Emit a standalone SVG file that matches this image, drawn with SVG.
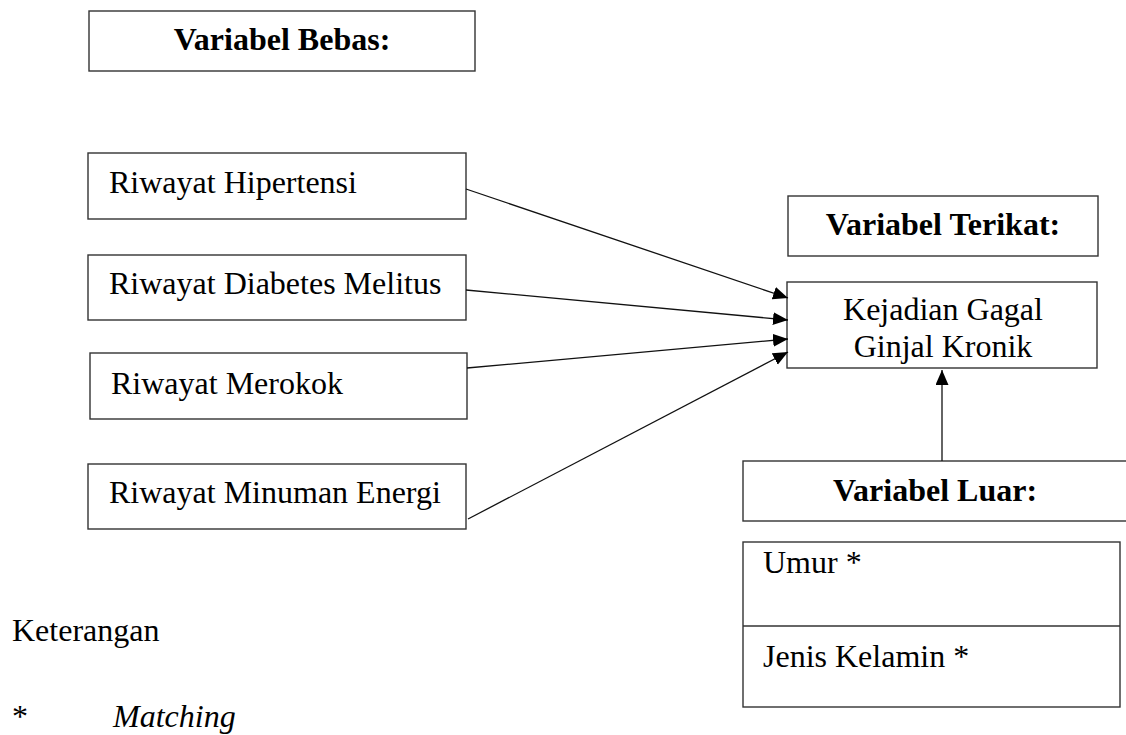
<svg xmlns="http://www.w3.org/2000/svg" width="1126" height="735" viewBox="0 0 1126 735">
<defs>
<style>
.box{fill:#fff;stroke:#333;stroke-width:1.4}
.t{font-family:"Liberation Serif","Times New Roman",serif;font-size:32px;fill:#000}
.b{font-weight:bold}
.c{text-anchor:middle}
.i{font-style:italic}
.edge{stroke:#111;stroke-width:1.3;fill:none}
</style>
<marker id="arr" markerUnits="userSpaceOnUse" markerWidth="16" markerHeight="14" refX="15" refY="6.5" orient="auto">
<path d="M0,0 L15,6.5 L0,13 Z" fill="#000"/>
</marker>
<clipPath id="kclip"><rect x="787" y="282" width="310" height="86"/></clipPath>
</defs>

<g id="bebas">
<rect class="box" x="89" y="11" width="386" height="60"/>
<text class="t b c" x="282" y="50">Variabel Bebas:</text>
</g>

<g id="hipertensi">
<rect class="box" x="88" y="153" width="378" height="66"/>
<text class="t" x="109" y="193">Riwayat Hipertensi</text>
</g>

<g id="diabetes">
<rect class="box" x="88" y="255" width="378" height="65"/>
<text class="t" x="109" y="294">Riwayat Diabetes Melitus</text>
</g>

<g id="merokok">
<rect class="box" x="90" y="353" width="377" height="66"/>
<text class="t" x="111" y="394">Riwayat Merokok</text>
</g>

<g id="energi">
<rect class="box" x="88" y="464" width="378" height="65"/>
<text class="t" x="109" y="503">Riwayat Minuman Energi</text>
</g>

<g id="terikat">
<rect class="box" x="788" y="196" width="310" height="60"/>
<text class="t b c" x="943" y="235">Variabel Terikat:</text>
</g>

<g id="kejadian">
<rect class="box" x="787" y="282" width="310" height="86"/>
<g clip-path="url(#kclip)">
<text class="t c" x="943" y="320">Kejadian Gagal</text>
<text class="t c" x="943" y="357">Ginjal Kronik</text>
</g>
</g>

<g id="luar">
<rect class="box" x="743" y="461" width="400" height="60"/>
<text class="t b c" x="935" y="501">Variabel Luar:</text>
</g>

<g id="luar-items">
<rect class="box" x="743" y="542" width="377" height="165"/>
<line x1="743" y1="626" x2="1120" y2="626" stroke="#333" stroke-width="1.4"/>
<text class="t" x="763" y="573">Umur *</text>
<text class="t" x="763" y="667">Jenis Kelamin *</text>
</g>

<g id="keterangan">
<text class="t" x="12" y="641">Keterangan</text>
<text class="t" x="12" y="727">*</text>
<text class="t i" x="113" y="727">Matching</text>
</g>

<g id="connectors">
<line class="edge" x1="466" y1="189" x2="788" y2="298" marker-end="url(#arr)"/>
<line class="edge" x1="466" y1="290" x2="788" y2="320" marker-end="url(#arr)"/>
<line class="edge" x1="467" y1="368" x2="788" y2="339" marker-end="url(#arr)"/>
<line class="edge" x1="468" y1="519" x2="788" y2="352" marker-end="url(#arr)"/>
<line class="edge" x1="942" y1="461" x2="942" y2="370" marker-end="url(#arr)"/>
</g>
</svg>
